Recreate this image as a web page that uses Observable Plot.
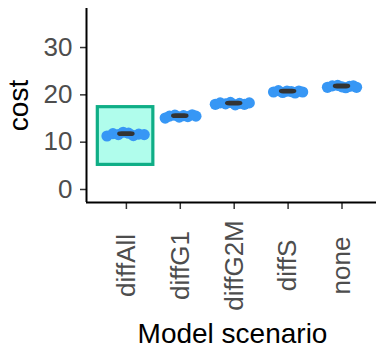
<!DOCTYPE html>
<html><head><meta charset="utf-8">
<script src="https://cdn.jsdelivr.net/npm/d3@7"></script>
<script src="https://cdn.jsdelivr.net/npm/@observablehq/plot@0.6"></script>
<style>body{margin:0;background:#fff}</style>
</head><body><div id="chart"></div>
<script>
const categories = ["diffAll", "diffG1", "diffG2M", "diffS", "none"];
// jittered horizontal offsets (in category steps) and cost values
const offsetsDiffAll = [-0.36, -0.25, -0.15, -0.06, 0.04, 0.13, 0.23, 0.33];
const costDiffAll    = [11.3, 11.8, 11.6, 12.1, 11.9, 11.4, 11.7, 11.6];
const offsetsDiffG1  = [-0.28, -0.20, -0.10, -0.02, 0.06, 0.14, 0.22, 0.29];
const costDiffG1     = [15.1, 15.5, 15.7, 15.3, 15.6, 15.4, 15.8, 15.5];
const offsetsDiffG2M = [-0.35, -0.26, -0.16, -0.07, 0.02, 0.10, 0.19, 0.28];
const costDiffG2M    = [18.0, 18.3, 18.1, 18.4, 17.9, 18.2, 18.0, 18.3];
const offsetsDiffS   = [-0.27, -0.18, -0.10, -0.02, 0.06, 0.13, 0.20, 0.27];
const costDiffS      = [20.6, 20.9, 20.5, 20.8, 20.7, 20.4, 20.8, 20.6];
const offsetsNone    = [-0.27, -0.18, -0.08, 0.00, 0.07, 0.14, 0.21, 0.27];
const costNone       = [21.6, 21.9, 22.0, 21.7, 21.5, 21.8, 21.9, 21.6];
const yTicks = [0, 10, 20, 30];
const highlightCategory = "diffAll";
const highlightLow = 5.2;
const highlightHigh = 17.4;

const offsets = [offsetsDiffAll, offsetsDiffG1, offsetsDiffG2M, offsetsDiffS, offsetsNone];
const costs = [costDiffAll, costDiffG1, costDiffG2M, costDiffS, costNone];

const points = [];
categories.forEach((c, i) => costs[i].forEach((v, j) => points.push({pos: i + 1 + offsets[i][j], cost: v})));
const boxes = categories.map((c, i) => {
  const s = costs[i].slice().sort(d3.ascending);
  return {pos: i + 1, q1: d3.quantile(s, 0.25), q3: d3.quantile(s, 0.75)};
});
const hIndex = categories.indexOf(highlightCategory) + 1;
const highlight = [{x1: hIndex - 0.53, x2: hIndex + 0.5, y1: highlightLow, y2: highlightHigh}];

const xDomain = [0.26, 5.64];
const yDomain = [-2.75, 38.25];
const idx = categories.map((c, i) => i + 1);

const chart = Plot.plot({
  width: 376, height: 350,
  marginLeft: 86, marginRight: 0, marginTop: 8, marginBottom: 148,
  style: {fontFamily: "'Liberation Sans', Arial, sans-serif", fontSize: "26px", background: "white"},
  x: {type: "linear", domain: xDomain},
  y: {domain: yDomain},
  marks: [
    Plot.rect(highlight, {x1: "x1", x2: "x2", y1: "y1", y2: "y2", fill: "#b0fdec", stroke: "#0fae86", strokeWidth: 3.2}),
    Plot.dot(points, {x: "pos", y: "cost", r: 5.6, fill: "#3797f5", stroke: "none"}),
    Plot.rect(boxes, {x1: d => d.pos - 0.13, x2: d => d.pos + 0.13, y1: "q1", y2: "q3", fill: "#333333", stroke: "#333333", strokeWidth: 3.5, rx: 2.5}),
    Plot.axisY({ticks: yTicks, tickSize: 6, tickPadding: 8, fontSize: 26, color: "#4d4d4d", stroke: "#333333", strokeWidth: 1.5, label: null}),
    Plot.axisX({ticks: idx, tickSize: 7, tickFormat: () => "", stroke: "#333333", strokeWidth: 1.5, label: null}),
    Plot.text(idx, {x: d => d, text: d => categories[d - 1], frameAnchor: "bottom", dy: 63, rotate: -90, textAnchor: "middle", lineAnchor: "middle", fontSize: 26, fill: "#4d4d4d"}),
    Plot.ruleX([xDomain[0]], {stroke: "black", strokeWidth: 2}),
    Plot.ruleY([yDomain[0]], {stroke: "black", strokeWidth: 2}),
    Plot.text(["cost"], {text: d => d, frameAnchor: "left", dx: -59, rotate: -90, lineAnchor: "bottom", textAnchor: "middle", fontSize: 28, fill: "black"}),
    Plot.text(["Model scenario"], {text: d => d, frameAnchor: "bottom", dy: 140, dx: 1, lineAnchor: "bottom", textAnchor: "middle", fontSize: 28, fill: "black"})
  ]
});
document.getElementById("chart").appendChild(chart);
</script>
</body></html>
